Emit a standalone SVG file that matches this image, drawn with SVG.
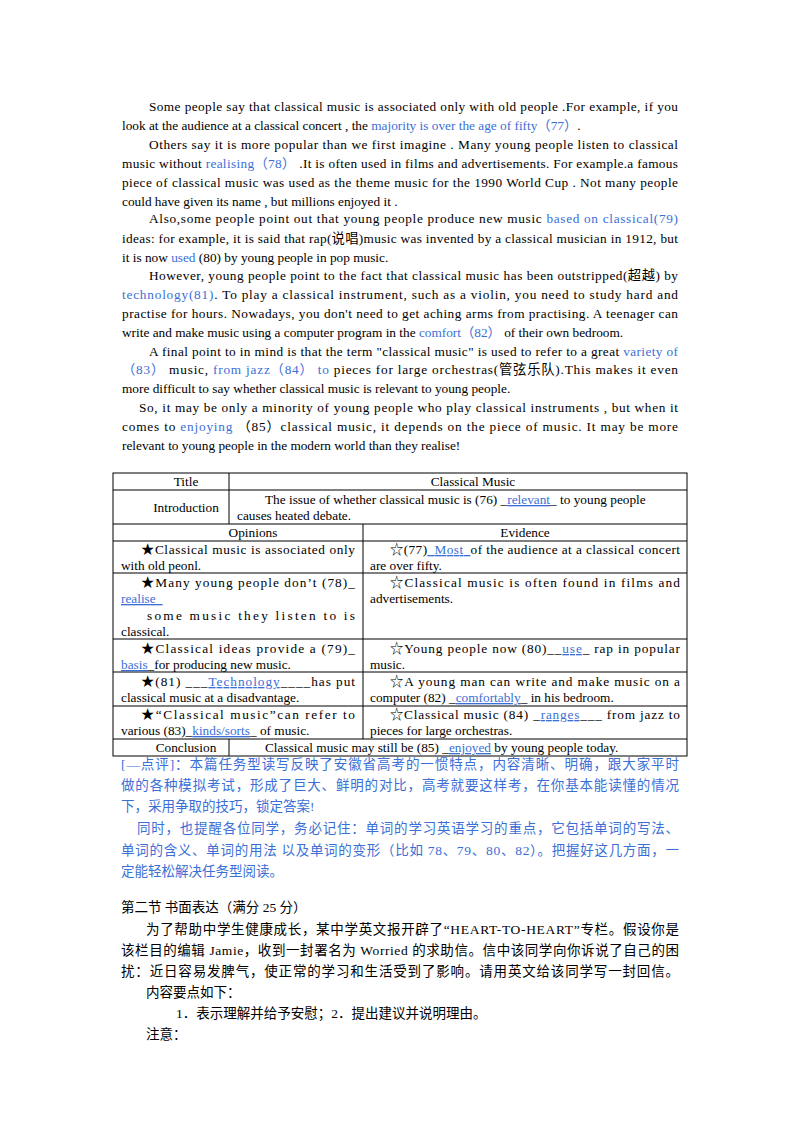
<svg xmlns="http://www.w3.org/2000/svg" width="800" height="1132" viewBox="0 0 800 1132">
<style>
text{font-family:"Liberation Serif","Noto Sans CJK SC",serif;font-size:13.3px;fill:#000}
.b{fill:#3b6fd6}
.c{font-family:"Liberation Serif","Noto Sans CJK SC",sans-serif;font-size:13.5px}
.cb{font-family:"Liberation Serif","Noto Sans CJK SC",sans-serif;font-size:13.5px;fill:#3b6fd6}
.u{fill:#3b6fd6;text-decoration:underline}
line{stroke:#000;stroke-width:1}
</style>
<rect width="800" height="1132" fill="#fff"/>
<g id="passage">
<text x="149" y="111" textLength="529" lengthAdjust="spacing">Some people say that classical music is associated only with old people .For example, if you</text>
<text x="122" y="130">look at the audience at a classical concert , the <tspan class="b">majority is over the age of fifty（77）</tspan>.</text>
<text x="149" y="149" textLength="529" lengthAdjust="spacing">Others say it is more popular than we first imagine . Many young people listen to classical</text>
<text x="122" y="168" textLength="556" lengthAdjust="spacing">music without <tspan class="b">realising（78）</tspan> .It is often used in films and advertisements. For example.a famous</text>
<text x="122" y="187" textLength="556" lengthAdjust="spacing">piece of classical music was used as the theme music for the 1990 World Cup . Not many people</text>
<text x="122" y="206">could have given its name , but millions enjoyed it .</text>
<text x="149" y="223" textLength="529" lengthAdjust="spacing">Also,some people point out that young people produce new music <tspan class="b">based on classical(79)</tspan></text>
<text x="122" y="243" textLength="556" lengthAdjust="spacing">ideas: for example, it is said that rap(说唱)music was invented by a classical musician in 1912, but</text>
<text x="122" y="262">it is now <tspan class="b">used</tspan> (80) by young people in pop music.</text>
<text x="149" y="280" textLength="529" lengthAdjust="spacing">However, young people point to the fact that classical music has been outstripped(超越) by</text>
<text x="122" y="299" textLength="556" lengthAdjust="spacing"><tspan class="b">technology(81)</tspan>. To play a classical instrument, such as a violin, you need to study hard and</text>
<text x="122" y="318" textLength="556" lengthAdjust="spacing">practise for hours. Nowadays, you don't need to get aching arms from practising. A teenager can</text>
<text x="122" y="337">write and make music using a computer program in the <tspan class="b">comfort（82）</tspan> of their own bedroom.</text>
<text x="149" y="356" textLength="529" lengthAdjust="spacing">A final point to in mind is that the term "classical music" is used to refer to a great <tspan class="b">variety of</tspan></text>
<text x="122" y="374" textLength="556" lengthAdjust="spacing"><tspan class="b">（83）</tspan> music, <tspan class="b">from jazz（84） to</tspan> pieces  for large orchestras(管弦乐队).This makes it even</text>
<text x="122" y="393">more difficult to say whether classical music is relevant to young people.</text>
<text x="139" y="412" textLength="539" lengthAdjust="spacing">So, it may be only a minority of young people who play classical instruments , but when it</text>
<text x="122" y="431" textLength="556" lengthAdjust="spacing">comes to <tspan class="b">enjoying</tspan>  （85）classical music, it depends on the piece of music. It may be more</text>
<text x="122" y="450">relevant to young people in the modern world than they realise!</text>
</g>
<g id="table-lines">
<rect x="113" y="473" width="574" height="283" fill="none" stroke="#000"/>
<line x1="113" y1="490" x2="687" y2="490"/>
<line x1="113" y1="524" x2="687" y2="524"/>
<line x1="113" y1="541" x2="687" y2="541"/>
<line x1="113" y1="573" x2="687" y2="573"/>
<line x1="113" y1="639" x2="687" y2="639"/>
<line x1="113" y1="672" x2="687" y2="672"/>
<line x1="113" y1="706" x2="687" y2="706"/>
<line x1="113" y1="739" x2="687" y2="739"/>
<line x1="229" y1="473" x2="229" y2="524"/>
<line x1="229" y1="739" x2="229" y2="756"/>
<line x1="363" y1="524" x2="363" y2="739"/>
</g>
<g id="table-text">
<text x="186" y="486" text-anchor="middle">Title</text>
<text x="473" y="486" text-anchor="middle">Classical Music</text>
<text x="186" y="512" text-anchor="middle">Introduction</text>
<text x="265" y="504">The issue of whether classical music is (76) _<tspan class="u">relevant</tspan>_ to young people</text>
<text x="237" y="520">causes heated debate.</text>
<text x="253" y="537" text-anchor="middle">Opinions</text>
<text x="525" y="537" text-anchor="middle">Evidence</text>
<text x="141" y="554" textLength="214" lengthAdjust="spacing">★Classical music is associated only</text>
<text x="121" y="570">with old peonl.</text>
<text x="390" y="554" textLength="290" lengthAdjust="spacing">☆(77)<tspan class="u">_Most_</tspan>of the audience at a classical concert</text>
<text x="370" y="570">are over fifty.</text>
<text x="141" y="587" textLength="214" lengthAdjust="spacing">★Many young people don’t (78)_</text>
<text x="121" y="603" class="u">realise_</text>
<text x="147" y="620" textLength="208" lengthAdjust="spacing">some music they listen to is</text>
<text x="121" y="636">classical.</text>
<text x="390" y="587" textLength="290" lengthAdjust="spacing">☆Classical music is often found in films and</text>
<text x="370" y="603">advertisements.</text>
<text x="141" y="653" textLength="214" lengthAdjust="spacing">★Classical ideas provide a (79)_</text>
<text x="121" y="669"><tspan class="u">basis</tspan>_for producing new music.</text>
<text x="390" y="653" textLength="290" lengthAdjust="spacing">☆Young people now (80)__<tspan class="u">use</tspan>_ rap in popular</text>
<text x="370" y="669">music.</text>
<text x="141" y="686" textLength="214" lengthAdjust="spacing">★(81) ___<tspan class="u">Technology</tspan>____has put</text>
<text x="121" y="702">classical music at a disadvantage.</text>
<text x="390" y="686" textLength="290" lengthAdjust="spacing">☆A young man can write and make music on a</text>
<text x="370" y="702">computer (82) _<tspan class="u">comfortably</tspan>_ in his bedroom.</text>
<text x="141" y="719" textLength="214" lengthAdjust="spacing">★“Classical music”can refer to</text>
<text x="121" y="735">various (83)_<tspan class="u">kinds/sorts</tspan>_ of music.</text>
<text x="390" y="719" textLength="290" lengthAdjust="spacing">☆Classical music (84) _<tspan class="u">ranges</tspan>___ from jazz to</text>
<text x="370" y="735">pieces for large orchestras.</text>
<text x="186" y="752" text-anchor="middle">Conclusion</text>
<text x="265" y="752">Classical music may still be (85) _<tspan class="u">enjoyed</tspan> by young people today.</text>
</g>
<g id="comment">
<text class="cb" x="121" y="769" textLength="558" lengthAdjust="spacing">[—点评]：本篇任务型读写反映了安徽省高考的一惯特点，内容清晰、明确，跟大家平时</text>
<text class="cb" x="121" y="790" textLength="558" lengthAdjust="spacing">做的各种模拟考试，形成了巨大、鲜明的对比，高考就要这样考，在你基本能读懂的情况</text>
<text class="cb" x="121" y="811">下，采用争取的技巧，锁定答案!</text>
<text class="cb" x="137" y="833" textLength="542" lengthAdjust="spacing">同时，也提醒各位同学，务必记住：单词的学习英语学习的重点，它包括单词的写法、</text>
<text class="cb" x="121" y="855" textLength="558" lengthAdjust="spacing">单词的含义、单词的用法 以及单词的变形（比如 78、79、80、82）。把握好这几方面，一</text>
<text class="cb" x="121" y="876">定能轻松解决任务型阅读。</text>
</g>
<g id="section2">
<text class="c" x="121" y="912">第二节 书面表达（满分 25 分）</text>
<text class="c" x="146" y="934" textLength="533" lengthAdjust="spacing">为了帮助中学生健康成长，某中学英文报开辟了“HEART-TO-HEART”专栏。假设你是</text>
<text class="c" x="121" y="955" textLength="558" lengthAdjust="spacing">该栏目的编辑 Jamie，收到一封署名为 Worried 的求助信。信中该同学向你诉说了自己的困</text>
<text class="c" x="121" y="976" textLength="558" lengthAdjust="spacing">扰：近日容易发脾气，使正常的学习和生活受到了影响。请用英文给该同学写一封回信。</text>
<text class="c" x="146" y="997">内容要点如下：</text>
<text class="c" x="176" y="1018">1．表示理解并给予安慰；2．提出建议并说明理由。</text>
<text class="c" x="146" y="1039">注意：</text>
</g>
</svg>
